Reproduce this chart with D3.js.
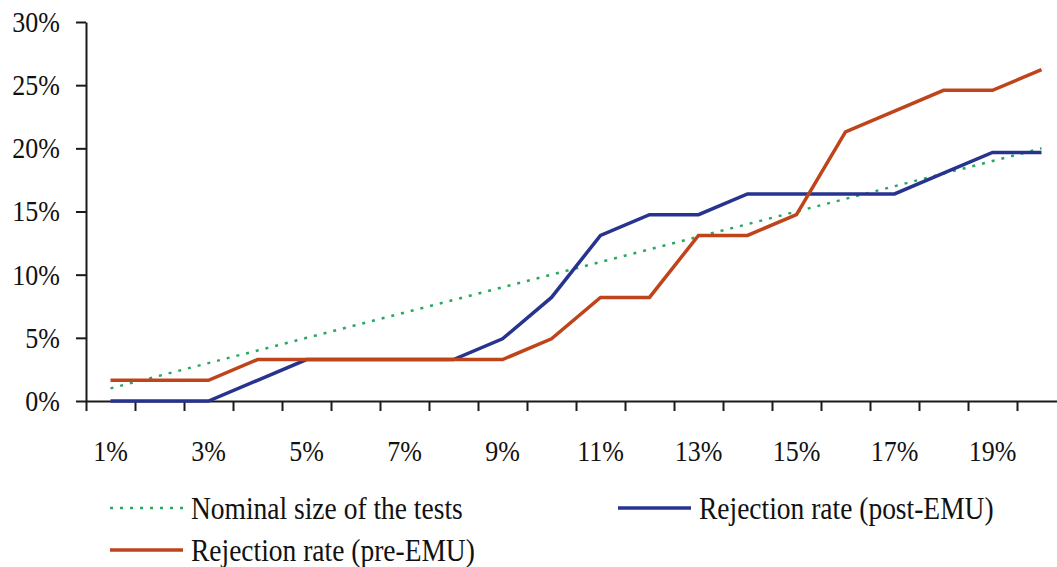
<!DOCTYPE html>
<html>
<head>
<meta charset="utf-8">
<script src="https://cdn.jsdelivr.net/npm/d3@7"></script>
<style>
  body { margin: 0; background: #fff; }
  text { font-family: "Liberation Serif", "DejaVu Serif", serif; fill: #111; }
</style>
</head>
<body>
<div id="chart"></div>
<script>
// test size (categories)
const sizes = ["1%","2%","3%","4%","5%","6%","7%","8%","9%","10%",
               "11%","12%","13%","14%","15%","16%","17%","18%","19%","20%"];
// values in percent
const nominal = [1,2,3,4,5,6,7,8,9,10,11,12,13,14,15,16,17,18,19,20];
const postEMU = [0,0,0,1.64,3.28,3.28,3.28,3.28,4.92,8.20,
                 13.11,14.75,14.75,16.39,16.39,16.39,16.39,18.03,19.67,19.67];
const preEMU = [1.64,1.64,1.64,3.28,3.28,3.28,3.28,3.28,3.28,4.92,
                8.20,8.20,13.11,13.11,14.75,21.31,22.95,24.59,24.59,26.23];
const yTicks = [0,5,10,15,20,25,30];
const xLabels = ["1%","3%","5%","7%","9%","11%","13%","15%","17%","19%"];

var width = 1057, height = 567;
var plotLeft = 86, plotRight = 1066, plotTop = 22, plotBottom = 401;
var stretch = "scale(1,1.14)"; // the original type is a bit taller than Liberation Serif

var svg = d3.select("#chart")
  .append("svg")
  .attr("width", width)
  .attr("height", height);

var x = d3.scaleBand()
  .domain(sizes)
  .range([plotLeft, plotRight])
  .padding(0);

var y = d3.scaleLinear()
  .domain([0, 30])
  .range([plotBottom, plotTop]);

// y axis
var yAxis = svg.append("g")
  .attr("transform", "translate(" + plotLeft + ",0)")
  .call(d3.axisLeft(y)
    .tickValues(yTicks)
    .tickFormat(function (d) { return d + "%"; })
    .tickSize(10)
    .tickSizeOuter(0)
    .tickPadding(16));
yAxis.selectAll("text")
  .style("font-size", "26px")
  .attr("transform", stretch);

// x axis: ticks at category boundaries, labels on every other category
var xb = d3.scaleLinear().domain([0, sizes.length]).range([plotLeft, plotRight]);
svg.append("g")
  .attr("transform", "translate(0," + plotBottom + ")")
  .call(d3.axisBottom(xb)
    .tickValues(d3.range(0, sizes.length + 1))
    .tickFormat("")
    .tickSize(10)
    .tickSizeOuter(0));

svg.selectAll(".domain, .tick line")
  .attr("stroke", "#1a1a1a")
  .attr("stroke-width", 2);

svg.append("g")
  .selectAll("text")
  .data(xLabels)
  .enter()
  .append("text")
  .attr("transform", function (d) {
    return "translate(" + (x(d) + x.bandwidth() / 2) + ",451) " + stretch;
  })
  .attr("dy", "0.34em")
  .attr("text-anchor", "middle")
  .style("font-size", "26px")
  .text(function (d) { return d; });

var series = [
  { name: "Nominal size of the tests", values: nominal, color: "#2aa860", width: 2.5, dash: "3,7" },
  { name: "Rejection rate (post-EMU)", values: postEMU, color: "#27348f", width: 3.5, dash: null },
  { name: "Rejection rate (pre-EMU)", values: preEMU, color: "#bf441c", width: 3.5, dash: null }
];

var line = d3.line()
  .x(function (d, i) { return x(sizes[i]) + x.bandwidth() / 2; })
  .y(function (d) { return y(d); });

svg.append("g")
  .selectAll("path")
  .data(series)
  .enter()
  .append("path")
  .attr("d", function (d) { return line(d.values); })
  .attr("fill", "none")
  .attr("stroke", function (d) { return d.color; })
  .attr("stroke-width", function (d) { return d.width; })
  .attr("stroke-dasharray", function (d) { return d.dash; });

// legend
var legendPos = [[110, 508], [618, 508], [110, 550]];
var legend = svg.append("g")
  .selectAll("g")
  .data(series)
  .enter()
  .append("g")
  .attr("transform", function (d, i) { return "translate(" + legendPos[i][0] + "," + legendPos[i][1] + ")"; });

legend.append("line")
  .attr("x1", 0).attr("x2", 73)
  .attr("stroke", function (d) { return d.color; })
  .attr("stroke-width", function (d) { return d.width; })
  .attr("stroke-dasharray", function (d) { return d.dash; });

legend.append("text")
  .attr("transform", "translate(81,0) " + stretch)
  .attr("dy", "0.34em")
  .style("font-size", "27.5px")
  .text(function (d) { return d.name; });
</script>
</body>
</html>
